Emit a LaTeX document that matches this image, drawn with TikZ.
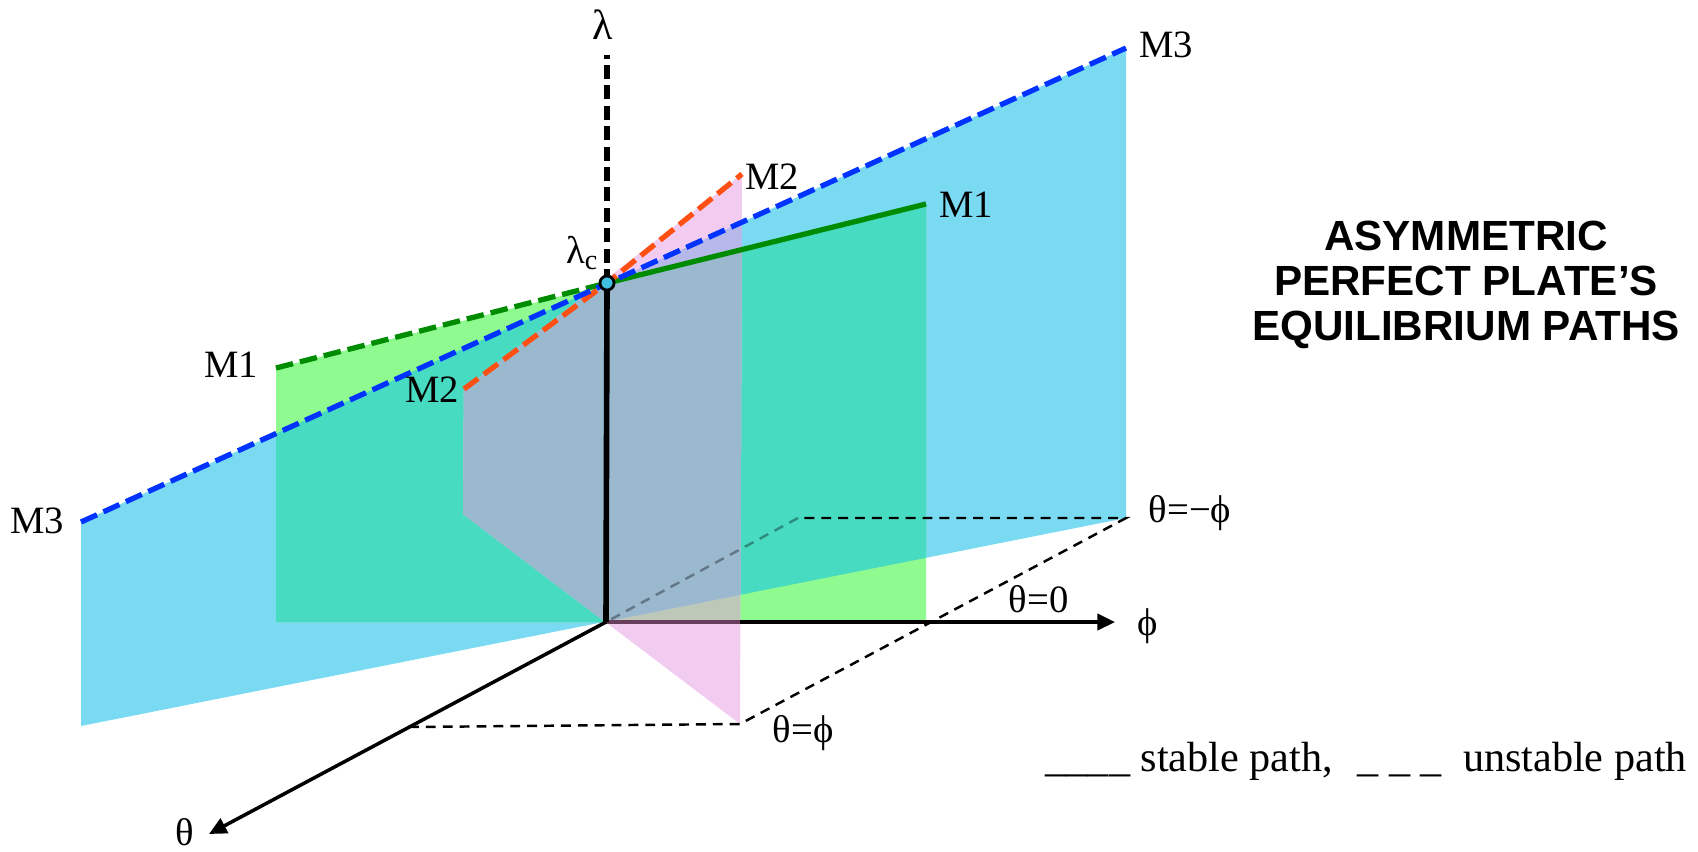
\documentclass[tikz,border=0pt]{standalone}
\usepackage{fontspec}
\setmainfont{Liberation Serif}
\newfontfamily\titlefont{Liberation Sans}
\usetikzlibrary{arrows.meta}
\definecolor{blueonly}{RGB}{122,218,242}
\definecolor{greenonly}{RGB}{143,250,143}
\definecolor{bluegreen}{RGB}{71,219,194}
\definecolor{pinkonly}{RGB}{242,204,240}
\definecolor{pinkblue}{RGB}{181,184,232}
\definecolor{pinkgreen}{RGB}{190,200,185}
\definecolor{pinkbluegreen}{RGB}{154,184,206}
\definecolor{lineblue}{RGB}{0,51,255}
\definecolor{linegreen}{RGB}{0,140,0}
\definecolor{lineorange}{RGB}{255,80,20}
\definecolor{dotfill}{RGB}{64,192,224}
\definecolor{mauve}{RGB}{105,62,92}
\begin{document}
\begin{tikzpicture}[x=0.01cm,y=-0.01cm,
  lbl/.style={inner sep=0pt,font=\fontsize{11}{13}\selectfont},
  pathline/.style={line width=1.5pt},
  unstab/.style={pathline,dash pattern=on 5pt off 2pt},
  axisline/.style={line width=1pt,-{Triangle[length=5pt,width=4.6pt]}},
  thindash/.style={line width=0.7pt,dash pattern=on 2.8pt off 2pt}]
\useasboundingbox (0,0) rectangle (1698,851);
% key points
\coordinate (O) at (606,622);
\coordinate (Lc) at (607,283);
\coordinate (Ltop) at (607,55);
\coordinate (Phi) at (1115,622);
\coordinate (Th) at (209,834);
% blue plane (M3)
\coordinate (B1) at (81,726);
\coordinate (B2) at (1126,518);
\coordinate (B3) at (1126,48);
\coordinate (B4) at (81,522);
% green plane (M1)
\coordinate (G1) at (276,622);
\coordinate (G2) at (926,622);
\coordinate (G3) at (926,204);
\coordinate (G4) at (276,368);
% pink plane (M2)
\coordinate (P1) at (463,514);
\coordinate (P2) at (740,724);
\coordinate (P3) at (742,174);
\coordinate (P4) at (464,389);
% dashed frame
\coordinate (D1) at (409,727);
\coordinate (D4) at (798,518);
\coordinate (Pm) at (740,622);
% fills
\def\bluepoly{(B1) -- (B2) -- (B3) -- (B4) -- cycle}
\def\greenpoly{(G1) -- (G2) -- (G3) -- (G4) -- cycle}
\def\pinkpoly{(P1) -- (P2) -- (P3) -- (P4) -- cycle}
\fill[blueonly] \bluepoly;
\fill[greenonly] \greenpoly;
\begin{scope}\clip \bluepoly; \fill[bluegreen] \greenpoly;\end{scope}
\fill[pinkonly] \pinkpoly;
\begin{scope}\clip \pinkpoly; \fill[pinkgreen] \greenpoly;\end{scope}
\begin{scope}\clip \pinkpoly; \fill[pinkblue] \bluepoly;\end{scope}
\begin{scope}\clip \pinkpoly; \clip \bluepoly; \fill[pinkbluegreen] \greenpoly;\end{scope}
% thin dashed frame
\draw[thindash] (D1) -- (P2) -- (B2) -- (D4);
\draw[thindash,black,opacity=0.35] (D4) -- (O);
% axes
\draw[axisline] (O) -- (Phi);
\draw[line width=1pt,mauve] (O) -- (Pm);
\draw[axisline] (O) -- (Th);
% equilibrium paths
\draw[unstab,linegreen] (G4) -- (Lc);
\draw[pathline,linegreen] (Lc) -- (G3);
\draw[unstab,lineorange] (P4) -- (Lc) -- (P3);
\draw[unstab,lineblue] (B4) -- (B3);
% lambda axis
\draw[line width=1.6pt] (O) -- (Lc);
\draw[line width=1.7pt,dash pattern=on 4pt off 1.8pt] (Lc) -- (Ltop);
\node[circle,draw,line width=0.8pt,fill=dotfill,inner sep=0pt,minimum size=4pt] (dot) at (Lc) {};
% labels
\node[lbl,font=\fontsize{12}{14}\selectfont] (lam) at (603,25) {λ};
\node[lbl,anchor=base east] (lamc) at (598,263) {λ\raisebox{-0.35ex}{\fontsize{8}{9}\selectfont c}};
\node[lbl] (m2t) at (772,177) {M2};
\node[lbl] (m1t) at (966,205) {M1};
\node[lbl] (m3t) at (1166,45) {M3};
\node[lbl] (m1l) at (231,365) {M1};
\node[lbl] (m2l) at (432,390) {M2};
\node[lbl] (m3l) at (37,521) {M3};
\node[lbl,anchor=base west] (tmp) at (1148,522) {θ=−ϕ};
\node[lbl,anchor=base west] (tz) at (1008,612) {θ=0};
\node[lbl] (phil) at (1148,626) {ϕ};
\node[lbl,anchor=base west] (tp) at (772,742) {θ=ϕ};
\node[lbl] (thl) at (185,832) {θ};
\node[inner sep=0pt,align=center,font=\titlefont\bfseries\fontsize{12}{12.8}\selectfont] (title) at (1466,285) {ASYMMETRIC\\PERFECT PLATE’S\\EQUILIBRIUM PATHS};
\node[inner sep=0pt,anchor=base west,font=\fontsize{12}{14}\selectfont] (legend) at (1045,771) {\_\_\_\_ stable path,\hspace{7pt}\_ \_ \_\hspace{6pt}unstable path};
\end{tikzpicture}
\end{document}
